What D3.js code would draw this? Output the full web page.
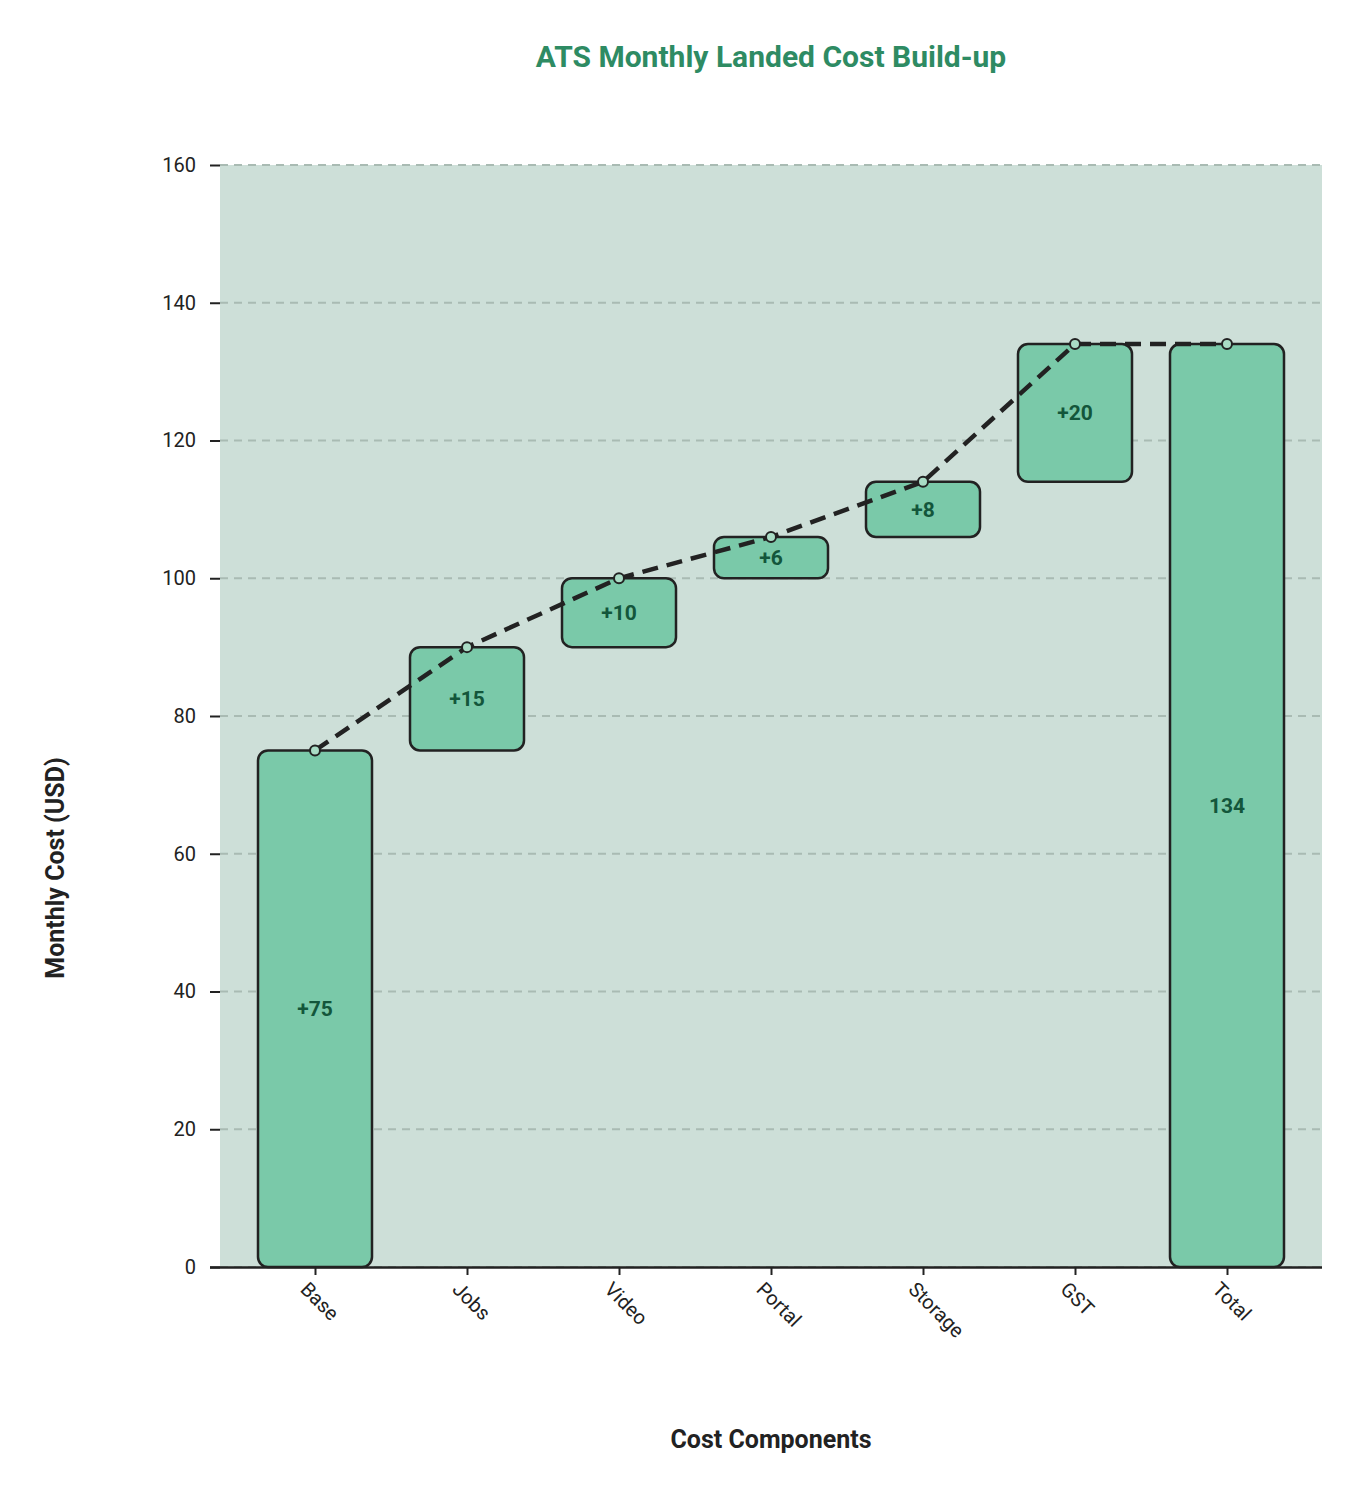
<!DOCTYPE html>
<html><head><meta charset="utf-8">
<script src="https://cdn.jsdelivr.net/npm/d3@7"></script>
<style>body{margin:0;background:#fff;font-family:Roboto,sans-serif}</style>
</head><body>
<script>
var categories = ["Base", "Jobs", "Video", "Portal", "Storage", "GST", "Total"];
var deltas = [75, 15, 10, 6, 8, 20];
var yTicks = [0, 20, 40, 60, 80, 100, 120, 140, 160];

var W = 1365, H = 1496, L = 220, R = 1322, T = 165, B = 1267;
var svg = d3.select("body").append("svg").attr("width", W).attr("height", H);

// running totals
var rows = [], acc = 0;
deltas.forEach(function(d, i) { rows.push({name: categories[i], y0: acc, y1: acc + d, label: "+" + d}); acc += d; });
rows.push({name: "Total", y0: 0, y1: acc, label: String(acc)});

var x = d3.scalePoint().domain(categories).range([L, R]).padding(0.625);
var y = d3.scaleLinear().domain([0, 160]).range([B, T]);
var bw = 114;

svg.append("rect").attr("x", L).attr("y", T).attr("width", R - L).attr("height", B - T).attr("fill", "#cddfd8");

svg.selectAll("line.grid").data(yTicks).enter().append("line")
  .attr("x1", L).attr("x2", R).attr("y1", y).attr("y2", y)
  .attr("stroke", "#a9bbb3").attr("stroke-width", 2).attr("stroke-dasharray", "8,6");

var ya = svg.append("g").attr("transform", "translate(" + L + ",0)")
  .call(d3.axisLeft(y).tickValues(yTicks).tickSize(10).tickPadding(14));
ya.select(".domain").remove();
ya.selectAll("line").attr("stroke", "#222").attr("stroke-width", 2);
ya.selectAll("text").attr("font-size", 20).attr("fill", "#222").attr("font-family", "Roboto");

var xa = svg.append("g").attr("transform", "translate(0," + B + ")")
  .call(d3.axisBottom(x).tickSize(8).tickSizeOuter(0));
xa.select(".domain").attr("d", "M210,0.5H" + R).attr("stroke", "#222").attr("stroke-width", 2.5);
xa.selectAll("line").attr("stroke", "#222").attr("stroke-width", 2);
xa.selectAll("text").attr("font-size", 20).attr("fill", "#222").attr("font-family", "Roboto")
  .attr("text-anchor", "start").attr("transform", "translate(0,10) rotate(45)").attr("dy", "0.5em").attr("dx", "-2");

svg.selectAll("rect.bar").data(rows).enter().append("rect")
  .attr("x", function(d) { return x(d.name) - bw / 2; })
  .attr("y", function(d) { return y(d.y1); })
  .attr("width", bw).attr("height", function(d) { return y(d.y0) - y(d.y1); })
  .attr("rx", 10).attr("fill", "#7ac9a9").attr("stroke", "#222").attr("stroke-width", 2.5);

svg.selectAll("text.lbl").data(rows).enter().append("text")
  .attr("x", function(d) { return x(d.name); })
  .attr("y", function(d) { return y((d.y0 + d.y1) / 2); })
  .attr("dy", "0.35em").attr("text-anchor", "middle")
  .attr("font-size", 21).attr("font-weight", "bold").attr("fill", "#13563b").text(function(d) { return d.label; });

var line = d3.line().x(function(d) { return x(d.name); }).y(function(d) { return y(d.y1); });
svg.append("path").datum(rows).attr("d", line).attr("fill", "none")
  .attr("stroke", "#222").attr("stroke-width", 4.5).attr("stroke-dasharray", "16,9");
svg.selectAll("circle").data(rows).enter().append("circle")
  .attr("cx", function(d) { return x(d.name); }).attr("cy", function(d) { return y(d.y1); })
  .attr("r", 5).attr("fill", "#a9dcc5").attr("stroke", "#222").attr("stroke-width", 2);

svg.append("text").attr("x", 771).attr("y", 67).attr("text-anchor", "middle")
  .attr("font-size", 30).attr("font-weight", "bold").attr("fill", "#2e8b63").text("ATS Monthly Landed Cost Build-up");
svg.append("text").attr("x", 771).attr("y", 1448).attr("text-anchor", "middle")
  .attr("font-size", 25).attr("font-weight", "bold").attr("fill", "#222").text("Cost Components");
svg.append("text").attr("transform", "translate(64,868) rotate(-90)").attr("text-anchor", "middle")
  .attr("font-size", 25).attr("font-weight", "bold").attr("fill", "#222").text("Monthly Cost (USD)");
</script>
</body></html>
